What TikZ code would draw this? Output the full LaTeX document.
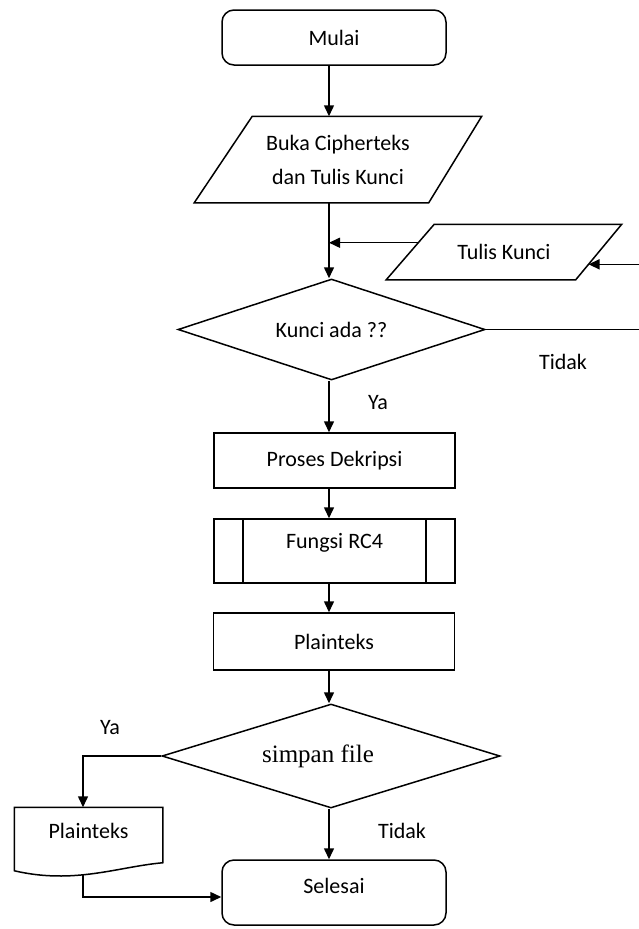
\documentclass[tikz,border=0pt]{standalone}
\usepackage{fontspec}
\setmainfont{Carlito}
\newfontfamily\serifface{Liberation Serif}
\usetikzlibrary{shapes.geometric,arrows.meta,calc}

\begin{document}
\begin{tikzpicture}[x=1pt,y=-1pt,
  line width=1.5pt,
  every node/.style={font=\fontsize{22}{34}\selectfont, inner sep=0pt, align=center},
  arr/.style={-{Triangle[length=11pt,width=10pt]}},
  terminal/.style={draw, rectangle, rounded corners=12pt, minimum width=224pt},
  process/.style={draw, rectangle, minimum width=241pt},
  iobox/.style={rectangle},
  decision/.style={draw, diamond},
  predef/.style={draw, rectangle, minimum width=241pt,
    path picture={
      \draw ([xshift=29pt]path picture bounding box.north west) -- ([xshift=29pt]path picture bounding box.south west);
      \draw ([xshift=-29pt]path picture bounding box.north east) -- ([xshift=-29pt]path picture bounding box.south east);
    }},
  tag/.style={font=\fontsize{22}{26}\selectfont}
]
\useasboundingbox (0,0) rectangle (638,929);

% main column and side columns
\coordinate (col) at (329,0);
\coordinate (lcol) at (83,0);
\coordinate (redge) at (640,0);

% nodes
\node[terminal, minimum height=55pt] (mulai) at (334,37.5) {Mulai};
\node[iobox, minimum width=286pt, minimum height=85pt] (buka) at (338,159.5)
      {Buka Cipherteks\\dan Tulis Kunci};
\node[iobox, minimum width=234pt, minimum height=54pt] (tulis) at (504,252) {Tulis Kunci};
\node[decision, minimum width=307pt, minimum height=101pt, aspect=3.04] (kunci) at (331.5,329.5) {Kunci ada ??};
\node[process, minimum height=55pt] (dekripsi) at (334.5,460.5) {Proses Dekripsi};
\node[predef, minimum height=64pt, text height=15pt, text depth=21pt] (rc4) at (334.5,551) {Fungsi RC4};
\node[process, minimum height=57pt] (plain) at (334,641.5) {Plainteks};
\node[decision, minimum width=338pt, minimum height=104pt, aspect=3.25,
      font=\serifface\fontsize{25}{30}\selectfont] (simpan) at (331,756) {simpan file\hspace*{26pt}};
\node[rectangle, minimum width=147pt, minimum height=62pt, text height=15pt, text depth=17pt] (doc) at (88.5,839) {Plainteks};
\node[terminal, minimum height=65pt, text height=15pt, text depth=13pt] (selesai) at (334,892.5) {Selesai};

% parallelogram outlines of the input/output boxes
\coordinate (bukaTL) at ($(buka.north west)+(58,0)$);
\coordinate (bukaBR) at ($(buka.south east)+(-53,0)$);
\draw (bukaTL) -- (buka.north east) -- (bukaBR) -- (buka.south west) -- cycle;
\coordinate (tulisTL) at ($(tulis.north west)+(48,0)$);
\coordinate (tulisBR) at ($(tulis.south east)+(-46,0)$);
\draw (tulisTL) -- (tulis.north east) -- (tulisBR) -- (tulis.south west) -- cycle;
\coordinate (tulisOut) at ($(tulis.south west)!0.667!(tulisTL)$);
\coordinate (tulisIn) at ($(tulisBR)!0.278!(tulis.north east)$);

% document outline with wavy bottom
\draw (doc.south west) -- (doc.north west) -- (doc.north east) -- ($(doc.south east)+(0,-8)$)
  .. controls ($(doc.south east)+(-45,-4)$) and ($(doc.south west)+(60,14)$) .. (doc.south west) -- cycle;

% branch labels
\node[tag] (ya1) at (378,403) {Ya};
\node[tag] (tidak1) at (563,362) {Tidak};
\node[tag] (ya2) at (110,728) {Ya};
\node[tag] (tidak2) at (402,831) {Tidak};

% connectors
\draw[arr] (mulai.south -| col) -- (bukaTL -| col);
\draw[arr] (buka.south -| col) -- (kunci.north -| col);
\draw[arr] (tulisOut) -- (tulisOut -| col);
\draw[arr] (tulisIn -| redge) -- (tulisIn);
\draw (kunci.east) -- (kunci.east -| redge);
\draw[arr] (kunci.south -| col) -- (dekripsi.north -| col);
\draw[arr] (dekripsi.south -| col) -- (rc4.north -| col);
\draw[arr] (rc4.south -| col) -- (plain.north -| col);
\draw[arr] (plain.south -| col) -- (simpan.north -| col);
\draw[arr] (simpan.west) -| (doc.north -| lcol);
\draw[arr] (simpan.south -| col) -- (selesai.north -| col);
\draw[arr] ($(doc.south -| lcol)+(0,4)$) |- ([yshift=-4.5pt]selesai.west);
\end{tikzpicture}
\end{document}
